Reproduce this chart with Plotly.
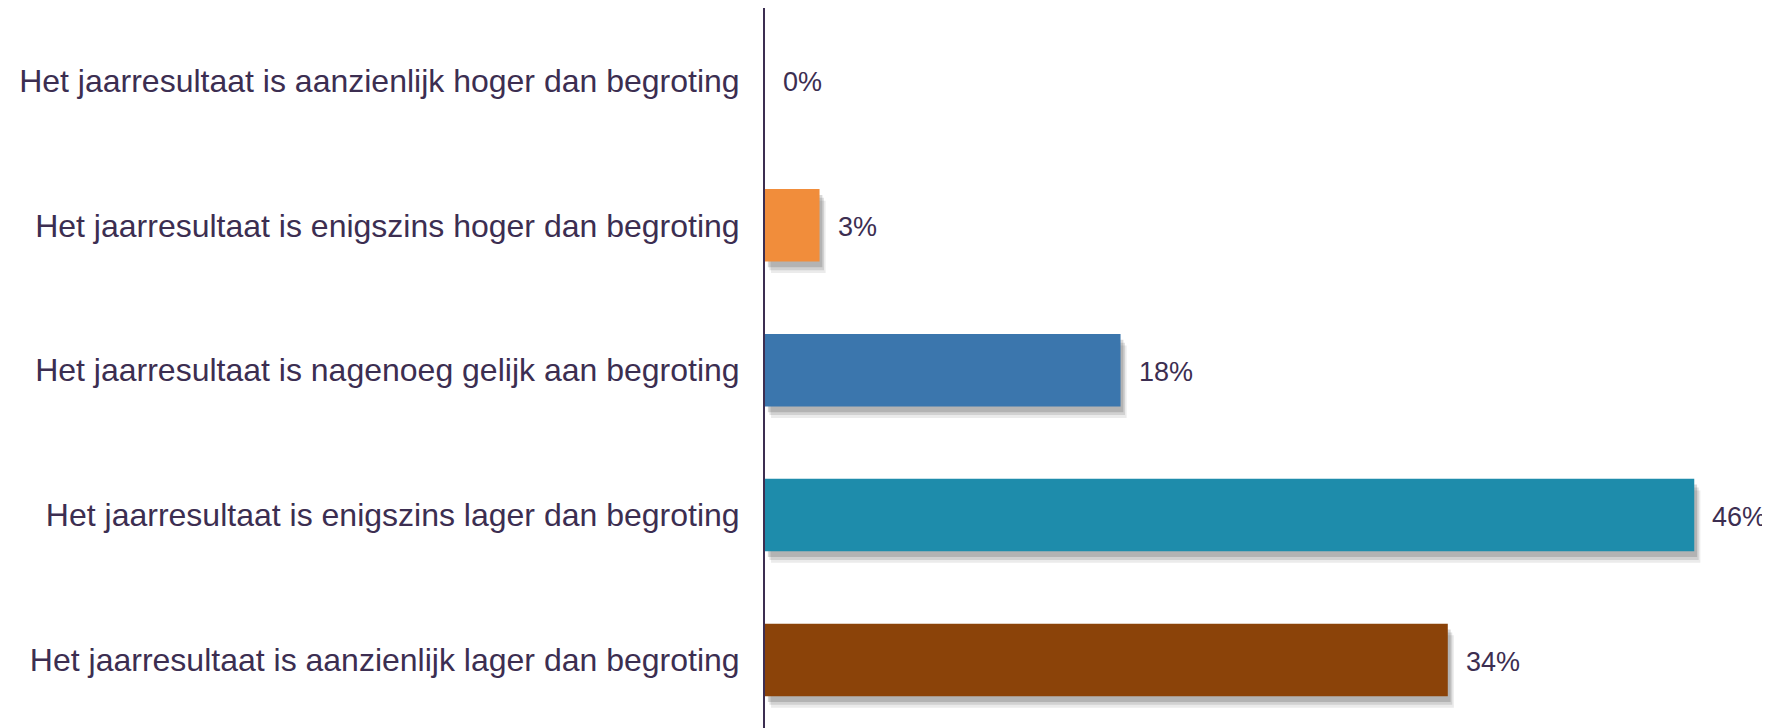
import plotly.graph_objects as go

# Data
categories = [
    'Het jaarresultaat is aanzienlijk hoger dan begroting',
    'Het jaarresultaat is enigszins hoger dan begroting',
    'Het jaarresultaat is nagenoeg gelijk aan begroting',
    'Het jaarresultaat is enigszins lager dan begroting',
    'Het jaarresultaat is aanzienlijk lager dan begroting',
]
values = [0, 2.7, 17.6, 46.0, 33.8]
labels = ['0%', '3%', '18%', '46%', '34%']
bar_colors = ['#F18D3B', '#F18D3B', '#3B76AD', '#1E8CAB', '#8B4309']

TEXT_COLOR = '#3C2E51'
FONT = 'Liberation Sans, Arial, sans-serif'

fig = go.Figure()

# soft drop shadow (a few stacked translucent layers)
for shift, base, alpha in [(0.08, 0.30, 0.10), (0.06, 0.22, 0.15), (0.04, 0.14, 0.2)]:
    fig.add_trace(go.Bar(
        y=categories, x=values, base=base, orientation='h',
        width=0.5, offset=-0.25 + shift,
        marker=dict(color=f'rgba(60,60,60,{alpha})', line=dict(width=0)),
        hoverinfo='skip', showlegend=False))

fig.add_trace(go.Bar(
    y=categories, x=values, orientation='h',
    width=0.5, offset=-0.25,
    marker=dict(color=bar_colors, line=dict(width=0)),
    showlegend=False))

for cat, val, lab in zip(categories, values, labels):
    fig.add_annotation(x=val, y=cat, text=lab, showarrow=False,
                       xanchor='left', yanchor='middle', xshift=16, yshift=-2,
                       font=dict(size=27, color=TEXT_COLOR, family=FONT))

# page body adds an 8px margin, so the figure is 8px smaller on each axis
fig.update_layout(
    width=1762, height=720,
    margin=dict(l=757, r=0, t=0, b=0),
    paper_bgcolor='white', plot_bgcolor='white',
    barmode='overlay',
    font=dict(family=FONT, color=TEXT_COLOR),
    xaxis=dict(range=[0, 49.75], showticklabels=False, showgrid=False,
               zeroline=False, showline=False),
    yaxis=dict(range=[4.47, -0.5], showgrid=False, zeroline=False,
               showline=True, linecolor=TEXT_COLOR, linewidth=2,
               ticks='', ticklabelstandoff=17,
               tickfont=dict(size=32, color=TEXT_COLOR, family=FONT)),
)

fig.write_html('out.html')
